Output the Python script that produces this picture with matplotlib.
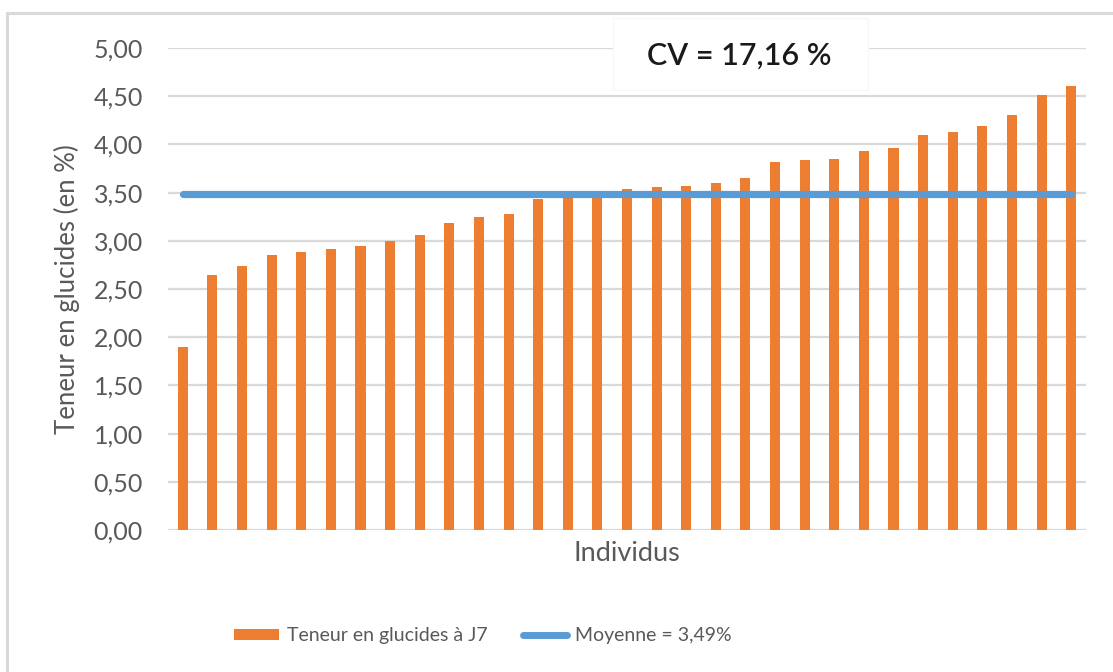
import matplotlib
matplotlib.use("Agg")
import matplotlib.pyplot as plt
from matplotlib.patches import Patch, Rectangle
from matplotlib.lines import Line2D
from matplotlib.ticker import FixedLocator

# ---- data ----
values = [1.90, 2.65, 2.74, 2.85, 2.88, 2.92, 2.95, 3.00, 3.06, 3.18, 3.25,
          3.28, 3.43, 3.47, 3.48, 3.54, 3.56, 3.57, 3.60, 3.65, 3.82, 3.84,
          3.85, 3.93, 3.96, 4.10, 4.13, 4.19, 4.30, 4.51, 4.61]
mean_value = 3.49
y_ticks = [0.0, 0.5, 1.0, 1.5, 2.0, 2.5, 3.0, 3.5, 4.0, 4.5, 5.0]
y_tick_labels = ["0,00", "0,50", "1,00", "1,50", "2,00", "2,50", "3,00",
                 "3,50", "4,00", "4,50", "5,00"]
bar_label = "Teneur en glucides à J7"
mean_label = "Moyenne = 3,49%"
cv_text = "CV = 17,16 %"
x_label = "Individus"
y_label = "Teneur en glucides (en %)"

ORANGE = "#ED7D31"
BLUE = "#5B9BD5"
GRID = "#D9D9D9"
TXT = "#595959"

plt.rcParams['font.family'] = ['Lato', 'DejaVu Sans']

W, H = 1113, 672
fig = plt.figure(figsize=(W / 100, H / 100), dpi=100)

def fx(px):
    return px / W

def fy(py):
    return 1 - py / H

ax = fig.add_axes([fx(168), fy(530), fx(1086) - fx(168), fy(48) - fy(530)])

x = list(range(len(values)))
ax.bar(x, values, width=0.34, color=ORANGE, zorder=2)
ax.plot([x[0], x[-1]], [mean_value, mean_value], color=BLUE, lw=5.2,
        solid_capstyle='round', zorder=3)

ax.set_xlim(-0.5, len(values) - 0.5)
ax.set_ylim(0, 5.0)
ax.yaxis.set_major_locator(FixedLocator(y_ticks))
ax.set_yticklabels(y_tick_labels)
ax.set_xticks([])
ax.grid(axis='y', color=GRID, lw=1.6, zorder=0)
ax.set_axisbelow(True)
for s in ax.spines.values():
    s.set_visible(False)
ax.tick_params(axis='y', length=0, pad=18, labelsize=18, labelcolor=TXT)
ax.set_xlabel(x_label, fontsize=19.5, color=TXT, labelpad=8)
ax.set_ylabel(y_label, fontsize=18.5, color=TXT, labelpad=10)

# outer chart frame
fig.add_artist(Rectangle((fx(7), fy(H + 20)), fx(W + 20) - fx(7),
                         fy(13) - fy(H + 20), transform=fig.transFigure,
                         fill=False, edgecolor=GRID, lw=2.2))

# CV text box
fig.add_artist(Rectangle((fx(613), fy(90)), fx(868) - fx(613), fy(18) - fy(90),
                         transform=fig.transFigure, facecolor='white',
                         edgecolor='#F7F7F7', lw=1, zorder=5))
fig.text(fx(739), fy(56), cv_text, ha='center', va='center', fontsize=22,
         fontweight='semibold', color='#1A1A1A', zorder=6)

handles = [Patch(facecolor=ORANGE, edgecolor='none'),
           Line2D([0], [0], color=BLUE, lw=5, solid_capstyle='round')]
fig.legend(handles, [bar_label, mean_label], loc='center',
           bbox_to_anchor=(fx(483), fy(636)), ncol=2, frameon=False,
           fontsize=14, labelcolor=TXT, handlelength=2.3, handleheight=0.55,
           handletextpad=0.4, columnspacing=1.8)

fig.savefig("out.png", dpi=100)
